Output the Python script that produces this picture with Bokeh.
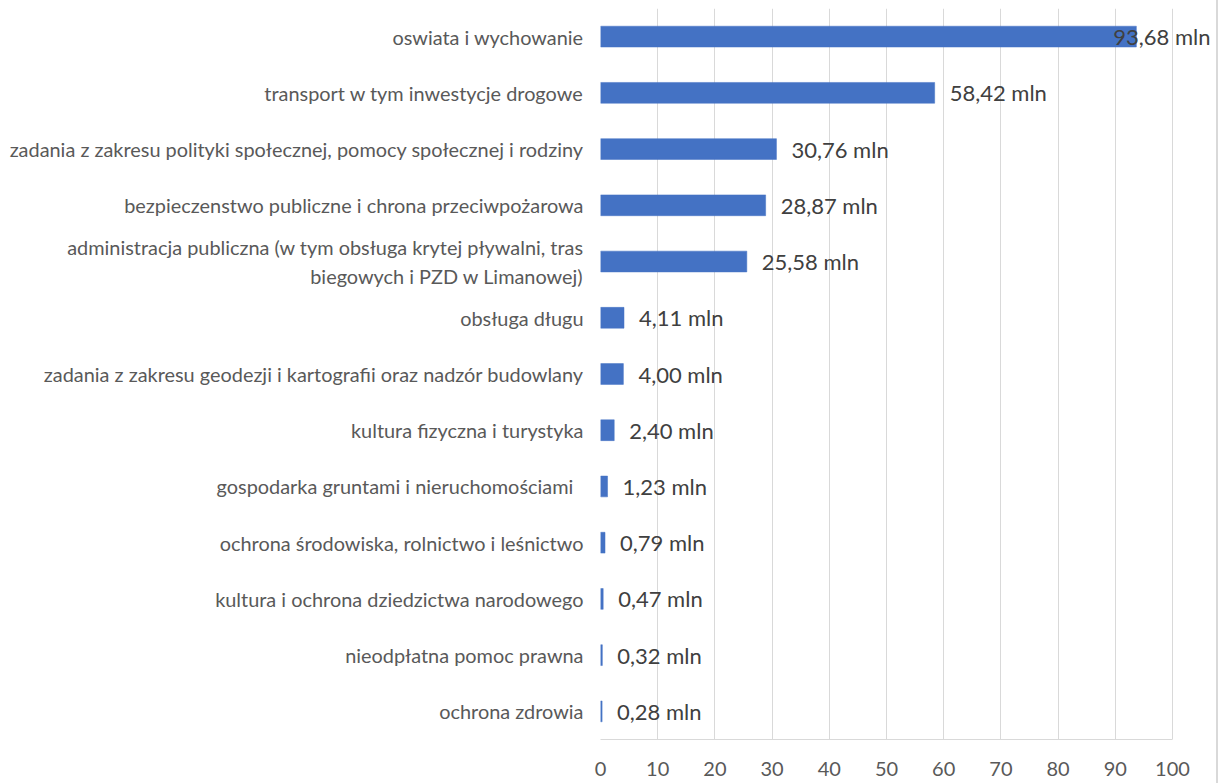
from bokeh.plotting import figure
from bokeh.models import ColumnDataSource, FactorRange, Range1d, LabelSet, FixedTicker
from bokeh.core.properties import value
from bokeh.embed import file_html
from bokeh.resources import INLINE

categories = [
    "oswiata i wychowanie",
    "transport w tym inwestycje drogowe",
    "zadania z zakresu polityki społecznej, pomocy społecznej i rodziny",
    "bezpieczenstwo publiczne i chrona przeciwpożarowa",
    "administracja publiczna (w tym obsługa krytej pływalni, tras\nbiegowych i PZD w Limanowej)",
    "obsługa długu",
    "zadania z zakresu geodezji i kartografii oraz nadzór budowlany",
    "kultura fizyczna i turystyka",
    "gospodarka gruntami i  nieruchomościami ",
    "ochrona środowiska, rolnictwo i leśnictwo",
    "kultura i ochrona dziedzictwa narodowego",
    "nieodpłatna pomoc prawna",
    "ochrona zdrowia",
]
values = [93.68, 58.42, 30.76, 28.87, 25.58, 4.11, 4.00, 2.40, 1.23, 0.79, 0.47, 0.32, 0.28]
x_ticks = [0, 10, 20, 30, 40, 50, 60, 70, 80, 90, 100]

FONT = "Lato"

labels = [f"{v:.2f}".replace(".", ",") + " mln" for v in values]
offsets = [15] * len(values)
offsets[0] = -23

src = ColumnDataSource(dict(cat=categories, val=values, lab=labels, off=offsets))

FRAME_W, FRAME_H = 616, 731
AXIS_W = 572          # px covered by 0..100
x_end = 100 * FRAME_W / AXIS_W

p = figure(
    y_range=FactorRange(factors=list(reversed(categories))),
    x_range=Range1d(0, x_end),
    frame_width=FRAME_W, frame_height=FRAME_H,
    min_border_left=600, min_border_right=0, min_border_top=8, min_border_bottom=44,
    output_backend="svg", toolbar_location=None,
)
p.outline_line_color = None
p.background_fill_color = "white"
p.border_fill_color = "white"

p.hbar(y="cat", right="val", left=0, height=0.37, source=src,
       fill_color="#4472C4", line_color="#4472C4", line_width=0.5)

ls = LabelSet(x="val", y="cat", text="lab", x_offset="off", source=src,
              text_font=value(FONT), text_font_size="22px", text_color="#404040",
              text_baseline="middle", text_align="left")
p.add_layout(ls)

p.xaxis.ticker = FixedTicker(ticks=x_ticks)
p.xaxis.bounds = (0, 100)
p.xaxis.axis_line_color = "#d9d9d9"
p.xaxis.axis_line_width = 1
p.xaxis.major_tick_line_color = None
p.xaxis.minor_tick_line_color = None
p.xaxis.major_tick_out = 0
p.xaxis.major_tick_in = 0
p.xaxis.major_label_text_font = FONT
p.xaxis.major_label_text_font_size = "20px"
p.xaxis.major_label_text_color = "#595959"
p.xaxis.major_label_standoff = 22

p.yaxis.axis_line_color = None
p.yaxis.major_tick_line_color = None
p.yaxis.minor_tick_line_color = None
p.yaxis.major_tick_out = 0
p.yaxis.major_tick_in = 0
p.yaxis.major_label_text_font = FONT
p.yaxis.major_label_text_font_size = "19.9px"
p.yaxis.major_label_text_color = "#595959"
p.yaxis.major_label_standoff = 17

p.xgrid.grid_line_color = "#d9d9d9"
p.xgrid.grid_line_width = 1
p.xgrid.bounds = (0, 100)
p.ygrid.grid_line_color = None

p.styles = {"border-right": "2px solid #d9d9d9"}

open("out.html", "w").write(file_html(p, INLINE))
